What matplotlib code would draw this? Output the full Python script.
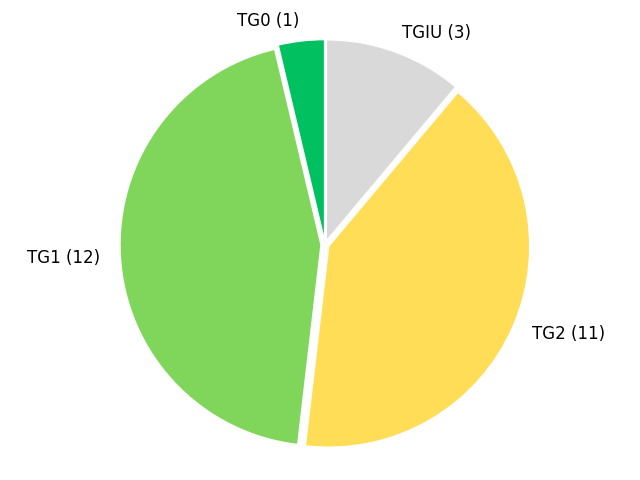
import matplotlib
matplotlib.use('Agg')
import matplotlib.pyplot as plt

labels = ['TGIU (3)', 'TG2 (11)', 'TG1 (12)', 'TG0 (1)']
counts = [3, 11, 12, 1]
colors = ['#d9d9d9', '#ffdd57', '#80d65a', '#00c060']
explode = [0.02, 0.02, 0.02, 0.02]

fig = plt.figure(figsize=(6.4, 4.8), dpi=100)
ax = fig.add_axes([0, 0, 1, 1])
ax.pie(counts, labels=labels, colors=colors, explode=explode, startangle=90,
       counterclock=False, wedgeprops={'edgecolor': 'white', 'linewidth': 1},
       textprops={'fontsize': 12})
ax.set_aspect('auto')
ax.set_xlim(-1.617, 1.567)
ax.set_ylim(-1.171, 1.217)
ax.axis('off')
plt.savefig('out.png')
